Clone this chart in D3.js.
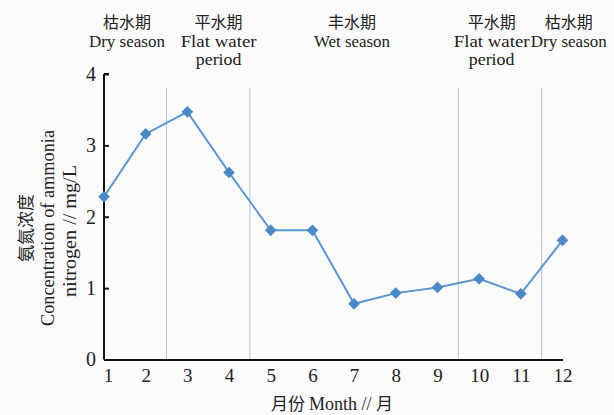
<!DOCTYPE html>
<html>
<head>
<meta charset="utf-8">
<script src="https://cdn.jsdelivr.net/npm/d3@7"></script>
<style>
  html, body { margin: 0; padding: 0; background: #fbfbfb; }
  svg { display: block; }
  text { fill: #222; }
</style>
</head>
<body>
<div id="chart"></div>
<script>
// Monthly ammonia nitrogen concentration (mg/L)
const months = [1, 2, 3, 4, 5, 6, 7, 8, 9, 10, 11, 12];
const concentration = [2.28, 3.16, 3.47, 2.62, 1.81, 1.81, 0.78, 0.93, 1.01, 1.13, 0.92, 1.67];
const yTicks = [0, 1, 2, 3, 4];
// Boundaries between hydrological periods (between months)
const periodBounds = [2.5, 4.5, 9.5, 11.5];
// Period labels: Chinese name, English lines, centre month
const periodNames = ["枯水期", "平水期", "丰水期", "平水期", "枯水期"];
const periodEnglish = [["Dry season"], ["Flat water", "period"], ["Wet season"], ["Flat water", "period"], ["Dry season"]];
const periodCentres = [1.55, 3.75, 6.95, 10.3, 12.15];

const W = 614, H = 415;
const svg = d3.select("#chart").append("svg").attr("width", W).attr("height", H);

const x = d3.scaleLinear().domain([1, 12]).range([104, 562.5]);
const y = d3.scaleLinear().domain([0, 4]).range([359.5, 74]);

const serif = "'Liberation Serif', 'DejaVu Serif', serif";
const cjk = "'Noto Sans CJK SC', 'Noto Sans CJK TC', sans-serif";

// period boundary lines
svg.append("g").selectAll("line").data(periodBounds).join("line")
  .attr("x1", d => x(d)).attr("x2", d => x(d))
  .attr("y1", 88).attr("y2", y(0))
  .attr("stroke", "#aecbe8").attr("stroke-width", 1.1);

// y axis
const yAxis = d3.axisLeft(y).tickValues(yTicks).tickSize(-5).tickPadding(8).tickFormat(d3.format("d"));
const gy = svg.append("g").attr("transform", `translate(${x(1)},0)`).call(yAxis);
gy.select(".domain").attr("stroke", "#111").attr("stroke-width", 2).attr("d", `M0,${y(0)}V${y(4)}M0,${y(4)}H5`);
gy.selectAll(".tick line").attr("stroke", "#111").attr("stroke-width", 2);
gy.selectAll(".tick text").attr("font-family", serif).attr("font-size", 20).attr("fill", "#222");

// x axis
const xAxis = d3.axisBottom(x).tickValues(months).tickSize(0).tickPadding(9).tickFormat(d3.format("d"));
const gx = svg.append("g").attr("transform", `translate(0,${y(0)})`).call(xAxis);
gx.select(".domain").attr("stroke", "#111").attr("stroke-width", 2);
gx.selectAll(".tick text").attr("font-family", serif).attr("font-size", 19).attr("fill", "#222")
  .attr("dx", d => d === 1 ? 4 : 0);

// data line
const line = d3.line().x((d, i) => x(months[i])).y(d => y(d));
svg.append("path").datum(concentration)
  .attr("d", line).attr("fill", "none")
  .attr("stroke", "#5a95cf").attr("stroke-width", 2);

// diamond markers
const diamond = d3.symbol(d3.symbolSquare, 68);
svg.append("g").selectAll("path").data(concentration).join("path")
  .attr("d", diamond)
  .attr("transform", (d, i) => `translate(${x(months[i])},${y(d)}) rotate(45)`)
  .attr("fill", "#4a89c8");

// period labels at top
const periodLabels = svg.append("g");
periodNames.forEach((name, i) => {
  const cx = x(periodCentres[i]);
  periodLabels.append("text").attr("x", cx).attr("y", 28).attr("text-anchor", "middle")
    .attr("font-family", cjk).attr("font-size", 16).text(name);
  periodEnglish[i].forEach((t, j) => {
    periodLabels.append("text").attr("x", cx).attr("y", 47 + j * 18).attr("text-anchor", "middle")
      .attr("font-family", serif).attr("font-size", 17)
      .attr("textLength", t.length * 7.6).attr("lengthAdjust", "spacingAndGlyphs")
      .text(t);
  });
});

// y axis title (rotated, three lines)
const yt = svg.append("g").attr("transform", "translate(0,228) rotate(-90)");
yt.append("text").attr("x", 0).attr("y", 32).attr("text-anchor", "middle")
  .attr("font-family", cjk).attr("font-size", 17).text("氨氮浓度");
yt.append("text").attr("x", 0).attr("y", 54).attr("text-anchor", "middle")
  .attr("font-family", serif).attr("font-size", 18)
  .attr("textLength", 196).attr("lengthAdjust", "spacingAndGlyphs")
  .text("Concentration of ammonia");
yt.append("text").attr("x", -3).attr("y", 76).attr("text-anchor", "middle")
  .attr("font-family", serif).attr("font-size", 18)
  .attr("textLength", 132).attr("lengthAdjust", "spacingAndGlyphs")
  .text("nitrogen // mg/L");

// x axis title
const xt = svg.append("text").attr("x", 332).attr("y", 410).attr("text-anchor", "middle")
  .attr("font-family", serif).attr("font-size", 18);
xt.append("tspan").attr("font-family", cjk).attr("font-size", 17).text("月份 ");
xt.append("tspan").text("Month // ");
xt.append("tspan").attr("font-family", cjk).attr("font-size", 17).text("月");
</script>
</body>
</html>
